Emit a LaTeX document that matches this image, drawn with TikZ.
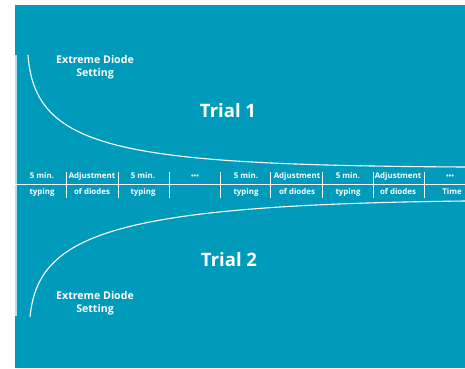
\documentclass[tikz,border=0pt]{standalone}
\usepackage{fontspec}
\setmainfont{Open Sans}
\usetikzlibrary{calc}
\usepackage{xcolor}
\definecolor{panelblue}{RGB}{0,155,186}

\begin{document}
\begin{tikzpicture}[x=1pt, y=-1pt]
        % ================= 样式定义 =================
        \tikzset{
            % 时间轴格子文字
            cell/.style={text=white, inner sep=0pt, anchor=base, font=\bfseries\fontsize{7.9}{9}\selectfont},
            % 省略号
            dots/.style={cell, font=\bfseries\fontsize{7}{8}\selectfont},
            % 大标题
            trial/.style={text=white, inner sep=0pt, font=\bfseries\fontsize{18.5}{20}\selectfont},
            % 说明文字
            note/.style={text=white, inner sep=0pt, align=center, font=\bfseries\fontsize{10.6}{12.5}\selectfont},
            % 曲线与轴线
            curve/.style={white, line width=1.1pt},
            axis/.style={white, line width=1pt},
            tick/.style={white, line width=0.8pt},
            sideline/.style={white!70!panelblue, line width=2pt}
        }

        % ================= 背景 =================
        \useasboundingbox (0,0) rectangle (465,368);
        \fill[panelblue] (15,5) rectangle (465,368);

        % 左侧竖线
        \coordinate (sidetop) at (16,55);
        \coordinate (sidebot) at (16,316);
        \draw[sideline] (sidetop) -- (sidebot);

        % ================= 第一部分:Trial 1 (上) =================
        \node[note] (ext1) at (95,67) {Extreme Diode\\Setting};
        \node[trial] (trial1) at (228,111) {Trial 1};
        \coordinate (c1start) at (28,55);
        \coordinate (c1end) at (465,167);
        \draw[curve] (c1start) .. controls (35,150) and (120,165) .. (c1end);

        % ================= 第二部分:Trial 2 (下) =================
        \node[note] (ext2) at (95,303) {Extreme Diode\\Setting};
        \node[trial] (trial2) at (229,260) {Trial 2};
        \coordinate (c2start) at (30,317);
        \coordinate (c2end) at (465,201);
        \draw[curve] (c2start) .. controls (38,235) and (110,205) .. (c2end);

        % ================= 第三部分:时间轴 (中) =================
        \begin{scope}[shift={(0,184)}]
            % 横轴
            \coordinate (axl) at (15,0);
            \coordinate (axr) at (465,0);
            \draw[axis] (axl) -- (axr);

            % 分隔竖线
            \foreach \x [count=\i] in {66,118,169,220,270,322,373,424} {
                \coordinate (t\i a) at (\x,-12);
                \coordinate (t\i b) at (\x,14);
                \draw[tick] (t\i a) -- (t\i b);
            }

            % 上排文字
            \node[cell] (u1) at (42,-6) {5 min.};
            \node[cell] (u2) at (92,-6) {Adjustment};
            \node[cell] (u3) at (143,-6) {5 min.};
            \node[dots] (u4) at (195,-6) {•••};
            \node[cell] (u5) at (246,-6) {5 min.};
            \node[cell] (u6) at (297,-6) {Adjustment};
            \node[cell] (u7) at (348,-6) {5 min.};
            \node[cell] (u8) at (398,-6) {Adjustment};
            \node[dots] (u9) at (450,-6) {•••};

            % 下排文字
            \node[cell] (d1) at (42,10) {typing};
            \node[cell] (d2) at (92,10) {of diodes};
            \node[cell] (d3) at (143,10) {typing};
            \node[cell] (d5) at (246,10) {typing};
            \node[cell] (d6) at (297,10) {of diodes};
            \node[cell] (d7) at (348,10) {typing};
            \node[cell] (d8) at (398,10) {of diodes};
            \node[cell] (d9) at (452,10) {Time};
        \end{scope}

    \end{tikzpicture}
\end{document}
